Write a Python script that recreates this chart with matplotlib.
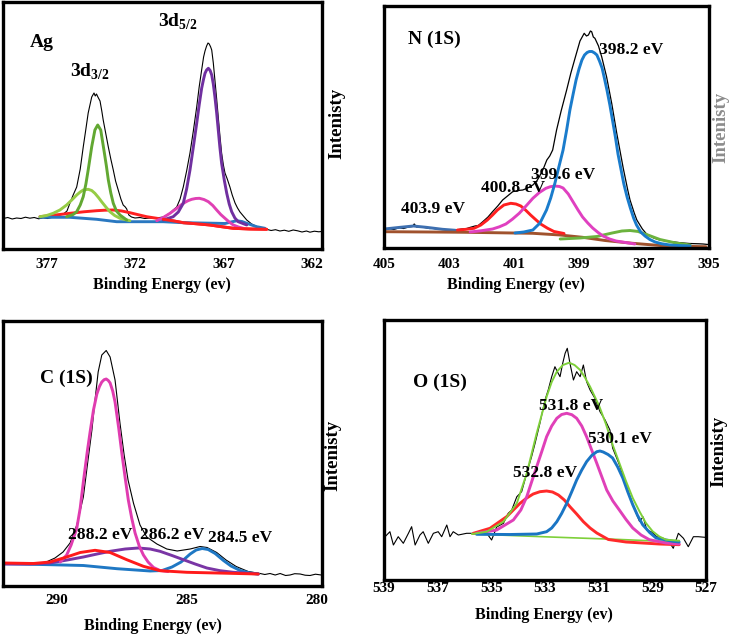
import matplotlib
matplotlib.use("Agg")
import matplotlib.pyplot as plt

plt.rcParams['font.family'] = ['Liberation Serif', 'DejaVu Serif']
plt.rcParams['font.weight'] = 'bold'
plt.rcParams['mathtext.fontset'] = 'custom'
plt.rcParams['mathtext.rm'] = 'Liberation Serif'
plt.rcParams['mathtext.bf'] = 'Liberation Serif:bold'
plt.rcParams['lines.solid_joinstyle'] = 'round'
plt.rcParams['lines.solid_capstyle'] = 'round'

# ---------------- Ag 3d ----------------
ag_ticks = [377, 372, 367, 362]
ag_env_e = [379.45, 379.2, 378.95, 378.7, 378.45, 378.2, 377.95, 377.7, 377.45, 377.2, 376.95, 376.7,
            376.45, 376.25, 376.05, 375.85, 375.68, 375.5, 375.3, 375.1, 374.93, 374.78, 374.65, 374.45,
            374.32, 374.25, 374.18, 374.1, 373.98, 373.88, 373.8, 373.65, 373.51, 373.37, 373.23, 373.1,
            372.95, 372.8, 372.67, 372.55, 372.47, 372.35, 372.2, 372.0, 371.72, 371.45, 371.15, 370.85,
            370.6, 370.4, 370.2, 370.02, 369.84, 369.64, 369.45, 369.27, 369.08, 368.89, 368.7, 368.51,
            368.37, 368.23, 368.12, 368.04, 367.95, 367.87, 367.8, 367.72, 367.66, 367.57, 367.48, 367.38,
            367.29, 367.2, 367.1, 367.0, 366.91, 366.78, 366.63, 366.5, 366.34, 366.2, 366.06, 365.87,
            365.68, 365.4, 365.12, 364.85, 364.55, 364.3, 364.05, 363.8, 363.55, 363.3, 363.05, 362.8,
            362.55, 362.3, 362.1, 361.85, 361.6, 361.45]
ag_env_i = [30.5, 31.5, 30, 31, 30.5, 31.8, 30.8, 31.5, 30.2, 31.2, 30.5, 31.6,
            32.5, 34, 35, 38, 46, 54, 62, 80, 102, 120, 136, 152,
            156, 153, 155, 152, 148, 138, 129, 115, 102, 90, 79, 68,
            59, 50, 44, 42, 40, 34, 32, 31, 31.5, 30.5, 31, 30.5,
            31.5, 32, 34, 36, 39, 42, 50, 62, 78, 96, 118, 142,
            162, 179, 192, 198, 203, 206, 205, 202, 199, 186, 169, 150,
            132, 114, 96, 84, 76, 70, 62, 54, 46, 41, 37, 33,
            29, 25, 22.5, 21, 19.7, 18.5, 19.3, 18, 18.8, 17.7, 19, 18.2,
            17, 18, 16.8, 17.8, 17.2, 17.5]
ag_g1_e = [375.87, 375.5, 375.3, 375.1, 374.93, 374.78, 374.65, 374.45, 374.27, 374.11, 373.94, 373.76,
           373.62, 373.51, 373.37, 373.23, 373.05, 372.85, 372.47]
ag_g1_i = [32.3, 34.5, 37.3, 44, 52.3, 65, 79, 102.3, 119, 124, 119, 99,
           83, 69, 56, 45.7, 38, 34, 29]
ag_g2_e = [377.38, 377.0, 376.63, 376.25, 375.87, 375.55, 375.3, 375.1, 374.93, 374.65, 374.45, 374.27,
           374.07, 373.89, 373.65, 373.42, 373.15, 372.85, 372.29]
ag_g2_i = [32.3, 33.5, 35.7, 39, 44, 49.5, 54, 57, 59, 59.7, 58.5, 55.7,
           51.5, 47.3, 42, 37.3, 33.5, 30.7, 28.3]
ag_red_e = [377.38, 376.5, 375.68, 374.9, 374.17, 373.7, 373.23, 372.75, 372.29, 371.8, 371.34, 370.87,
            370.4, 369.8, 369.27, 368.5, 367.76, 367.1, 366.44, 365.5, 364.55]
ag_red_i = [32.3, 34, 35.7, 37.2, 38.3, 38.8, 39, 38, 36.3, 34.2, 32.3, 31,
            29.7, 28, 26.3, 25.2, 24, 22.3, 20.7, 20, 19.7]
ag_blue_e = [377.38, 375.68, 374.17, 373.04, 370.4, 369.27, 367.38, 366.91, 366.57, 366.25, 365.95, 365.68, 365.12, 364.65]
ag_blue_i = [31.7, 31.7, 29.7, 27.3, 27.3, 26.3, 25.7, 25.5, 27, 28.2, 27.5, 25.7, 22.3, 20.7]
ag_pur_e = [370.4, 369.84, 369.55, 369.27, 369.08, 368.89, 368.7, 368.51, 368.37, 368.23, 368.12, 368.04,
            367.95, 367.85, 367.75, 367.66, 367.57, 367.48, 367.38, 367.29, 367.2, 367.1, 366.95, 366.81,
            366.67, 366.53, 366.35, 366.16, 365.68]
ag_pur_i = [29, 32.3, 37, 45.7, 60, 79, 102, 125.7, 144, 160.7, 170, 175.7,
            179, 180.7, 178.5, 174, 165, 152.3, 136, 119, 102, 85.7, 69, 55.7,
            45, 37.3, 31, 27.3, 24]
ag_mag_e = [370.77, 370.4, 370.02, 369.65, 369.27, 369.0, 368.79, 368.57, 368.36, 368.1, 367.85, 367.6,
            367.38, 367.15, 366.91, 366.67, 366.44, 366.15, 365.87]
ag_mag_i = [28.3, 31.5, 35.7, 40.5, 45.7, 48.3, 49.7, 50.5, 50.7, 49.5, 47.3, 43.5,
            39, 34.5, 30.7, 27, 24, 22, 20.7]

# ---------------- N 1s ----------------
n_ticks = [405, 403, 401, 399, 397, 395]
n_env_e = [404.99, 404.85, 404.7, 404.53, 404.4, 404.25, 404.12, 404.07, 404.0, 403.89, 403.75, 403.6,
           403.5, 403.35, 403.2, 403.0, 402.78, 402.6, 402.45, 402.38, 402.2, 402.1, 401.96, 401.8,
           401.66, 401.5, 401.35, 401.2, 401.04, 400.88, 400.73, 400.58, 400.42, 400.3, 400.22, 400.1,
           399.99, 399.9, 399.81, 399.69, 399.55, 399.38, 399.25, 399.12, 398.97, 398.84, 398.77, 398.71,
           398.65, 398.61, 398.56, 398.51, 398.4, 398.3, 398.15, 397.99, 397.84, 397.72, 397.64, 397.5,
           397.43, 397.3, 397.22, 397.05, 396.92, 396.7, 396.51, 396.2, 395.89, 395.6, 395.3, 395.18, 395.03]
n_env_i = [18.7, 19.5, 18.5, 20.3, 19.5, 21, 21.5, 24, 21, 21, 20.5, 19.5,
           19.7, 18.8, 18.5, 18, 18, 19, 19.5, 20.3, 22, 22.5, 26.3, 31,
           36.3, 42, 48, 52, 56.3, 57.5, 58, 60, 63, 67, 71.3, 79,
           88, 92, 98, 118, 137, 158, 175, 190, 207, 214.7, 212, 213,
           217, 216.3, 211, 209.7, 202, 191, 171, 144, 115, 94, 80, 58,
           48, 35, 28, 19, 14, 10, 8, 6.5, 5.3, 4.5, 4.2, 4, 3.5]
n_blue_e = [400.97, 400.7, 400.42, 400.2, 400.0, 399.87, 399.74, 399.62, 399.49, 399.38, 399.28, 399.18,
            399.09, 399.0, 398.91, 398.83, 398.75, 398.68, 398.6, 398.52, 398.45, 398.37, 398.29, 398.22,
            398.14, 398.05, 397.97, 397.88, 397.8, 397.71, 397.62, 397.52, 397.42, 397.32, 397.23, 397.1,
            396.97, 396.82, 396.66, 396.45, 396.2, 395.9, 395.58]
n_blue_i = [15, 16, 18, 25, 38, 50, 65, 81, 98, 118, 138, 154,
            168, 179, 188, 193, 195.5, 196.5, 196.5, 195, 193, 187, 180, 170,
            158, 143, 128, 111, 94, 79, 64, 51, 40, 30, 23, 16,
            12, 8.5, 6, 4.2, 3, 2.4, 2]
n_mag_e = [402.35, 402.0, 401.66, 401.45, 401.25, 401.05, 400.84, 400.63, 400.42, 400.22, 400.02, 399.88,
           399.74, 399.6, 399.49, 399.33, 399.18, 399.03, 398.89, 398.73, 398.58, 398.42, 398.26, 398.06,
           397.86, 397.28]
n_mag_i = [16, 17.3, 19, 21.2, 24, 28.8, 34.7, 42, 49.7, 55.5, 59.7, 61.3,
           62, 61.5, 60, 54, 46, 38, 31, 25, 20, 15.7, 12, 9,
           7, 4]
n_red_e = [402.74, 402.5, 402.23, 402.02, 401.82, 401.66, 401.51, 401.31, 401.1, 400.94, 400.79, 400.64,
           400.49, 400.33, 400.18, 399.97, 399.77, 399.46]
n_red_i = [18, 18.6, 19.7, 23, 28, 33, 38, 43, 44.7, 44, 42, 37.8,
           33, 28.3, 24, 19.8, 16.5, 14.5]
n_grn_e = [399.58, 398.97, 398.45, 397.98, 397.68, 397.43, 397.18, 396.88, 396.51, 396.02, 395.58]
n_grn_i = [9, 10, 11.5, 15, 17, 17.5, 16.5, 13, 8.5, 5, 3]
n_base_e = [404.99, 403.58, 402.48, 401.43, 400.42, 399.58, 398.89, 398.2, 397.35, 396.32, 395.09]
n_base_i = [16.3, 16, 15.7, 15.2, 14.7, 13, 10.7, 7.5, 4.7, 2, 1.3]
n_p4_e = [404.99, 404.5, 404.1, 403.7, 403.2, 402.8]
n_p4_i = [19, 20.7, 22, 20.7, 18.7, 17.7]

# ---------------- C 1s ----------------
c_ticks = [290, 285, 280]
c_env_e = [292.05, 291.7, 291.41, 291.15, 290.9, 290.45, 290.07, 289.76, 289.49, 289.23, 288.98, 288.8,
           288.65, 288.53, 288.41, 288.27, 288.1, 287.95, 287.76, 287.57, 287.41, 287.26, 287.05, 286.8,
           286.54, 286.15, 285.77, 285.37, 284.87, 284.49, 284.22, 283.85, 283.49, 283.1, 282.64, 282.18,
           282.0, 281.8, 281.6, 281.41, 281.2, 281.03, 280.85, 280.64, 280.45, 280.26, 280.05, 279.83]
c_env_i = [23, 22.5, 22.5, 22.2, 22, 23.5, 28, 34, 43, 61, 89, 126,
           156, 186, 214, 231, 235.5, 229, 206, 162.7, 131, 106, 82.7, 61,
           49, 42, 37, 35, 37, 39.5, 38.5, 33.5, 26, 19.5, 14.5, 12.5,
           11.5, 12.5, 11, 12.5, 10.5, 11, 12.3, 12, 10.8, 10.5, 11.8, 11]
c_mag_e = [289.87, 289.62, 289.45, 289.23, 289.1, 288.98, 288.83, 288.72, 288.59, 288.46, 288.36, 288.27,
           288.18, 288.1, 288.02, 287.95, 287.85, 287.76, 287.62, 287.5, 287.37, 287.25, 287.12, 286.99,
           286.83, 286.67, 286.49, 286.28, 286.03, 285.72]
c_mag_i = [24, 31, 41, 58, 78, 104, 134, 154, 176, 192, 199.5, 204,
           206.3, 207, 205.5, 203, 195, 184, 158, 133, 108, 86, 68, 53,
           40, 31, 24, 18.5, 15.5, 14.5]
c_red_e = [292.05, 290.9, 290.26, 289.68, 289.1, 288.53, 287.95, 287.31, 286.67, 286.03, 285.0, 283.85, 282.25]
c_red_i = [23, 22.5, 24, 28.5, 33.5, 35.7, 33.5, 26.3, 19.7, 15.3, 13.7, 13, 12]
c_pur_e = [292.05, 291.03, 290.26, 289.6, 288.98, 288.45, 287.95, 287.37, 286.86, 286.41, 286.03, 285.57,
           285.13, 284.68, 284.23, 283.72, 283.21, 282.25]
c_pur_i = [22, 22, 23, 26, 29, 32, 34.7, 37, 38, 37, 34.7, 30.5,
           26.3, 22, 18, 15.3, 13.7, 12]
c_blue_e = [292.05, 290.26, 288.98, 287.69, 286.41, 285.95, 285.57, 285.22, 284.87, 284.64, 284.41, 284.18,
            283.91, 283.59, 283.3, 282.95, 282.56, 282.25]
c_blue_i = [22.3, 21.3, 20.5, 17.3, 15, 15.5, 19, 24, 32, 36, 37.5, 36.5,
            32.5, 25.5, 20, 15.5, 13, 12]

# ---------------- O 1s ----------------
o_ticks = [539, 537, 535, 533, 531, 529, 527]
o_env_e = [538.96, 538.78, 538.65, 538.47, 538.28, 538.09, 537.97, 537.84, 537.66, 537.54, 537.35, 537.16,
           536.98, 536.85, 536.66, 536.54, 536.42, 536.23, 535.92, 535.67, 535.42, 535.17, 534.99, 534.8,
           534.55, 534.37, 534.24, 534.05, 533.87, 533.68, 533.5, 533.37, 533.19, 533.0, 532.88, 532.75,
           532.63, 532.54, 532.44, 532.34, 532.25, 532.17, 532.07, 531.94, 531.82, 531.69, 531.57, 531.45,
           531.32, 531.14, 530.95, 530.76, 530.58, 530.48, 530.23, 529.98, 529.73, 529.48, 529.34, 529.21,
           529.02, 528.84, 528.59, 528.34, 528.22, 528.03, 527.84, 527.66, 527.47, 527.29, 527.04]
o_env_i = [43.3, 48.3, 35, 43.3, 36.7, 46.7, 53.3, 35, 45, 48.3, 36.7, 46.7,
           48.3, 43.3, 55, 43.3, 48.3, 45, 46.7, 46.7, 48, 46.7, 40, 53,
           56.7, 66.7, 70, 83.3, 88.3, 106.7, 123.3, 136.7, 156.7, 180, 190, 203.3,
           213.3, 208.3, 203.3, 216.7, 226.7, 231.7, 216.7, 200, 208.3, 203.3, 215, 198.3,
           190, 181.7, 168.3, 160, 150, 132, 115.3, 95.3, 75.3, 58.7, 63, 50,
           48, 43.3, 41.7, 36.7, 31.7, 46.7, 41.7, 33.3, 43.3, 43.3, 42.7]
o_fit_e = [535.72, 535.17, 534.55, 534.05, 533.68, 533.31, 532.94, 532.75, 532.56, 532.33, 532.1, 531.9,
           531.69, 531.5, 531.32, 530.98, 530.73, 530.48, 530.23, 529.98, 529.73, 529.48, 529.24, 528.99,
           528.74, 528.49, 528.0]
o_fit_i = [46, 48.3, 58.3, 76.7, 106.7, 146.7, 183.3, 198, 208.3, 215, 217.3, 215,
           210, 202, 193.3, 174, 156, 135.3, 117, 98.7, 82, 68.7, 57, 48.7,
           43.5, 40.3, 39.3]
o_base_e = [535.72, 532.81, 530.2, 528.0]
o_base_i = [46, 43, 40.5, 38]
o_red_e = [535.67, 535.05, 534.43, 533.93, 533.68, 533.44, 533.19, 532.94, 532.72, 532.5, 532.28, 532.07,
           531.82, 531.57, 531.32, 531.07, 530.64, 529.98, 528.74, 528.0]
o_red_i = [46.7, 51.7, 63.3, 76.7, 82, 86, 88.3, 89, 88, 85, 80, 73.3,
           66, 58.3, 52, 47, 40.5, 38, 36, 35.3]
o_mag_e = [535.55, 534.8, 534.18, 533.9, 533.68, 533.5, 533.31, 533.12, 532.94, 532.75, 532.56, 532.38,
           532.19, 532.0, 531.82, 531.63, 531.45, 531.26, 531.07, 530.88, 530.7, 530.47, 530.23, 529.98,
           529.73, 529.42, 529.11, 528.49, 528.0]
o_mag_i = [46.7, 50, 60, 70, 83.3, 98, 113.3, 128.5, 143.3, 154, 161.7, 165.5,
           166.7, 165.3, 161.7, 154, 143.3, 130, 116.7, 103, 90, 79, 70, 60.5,
           52, 45, 40.3, 37, 36]
o_blue_e = [535.55, 534.3, 533.31, 532.94, 532.75, 532.56, 532.38, 532.19, 532.0, 531.82, 531.63, 531.45,
            531.26, 531.07, 530.95, 530.83, 530.65, 530.48, 530.29, 530.1, 529.92, 529.73, 529.55, 529.36,
            529.1, 528.86, 528.24, 528.0]
o_blue_i = [45.7, 45.5, 46, 48.3, 52, 58.3, 66.5, 76.7, 88.5, 100, 110, 118.3,
            124.5, 128.3, 129, 128, 125.5, 122, 113, 102, 88.5, 75.3, 64.5, 55.3,
            47.5, 42, 38.7, 38]

W, H = 732, 636
fig = plt.figure(figsize=(W / 100, H / 100), dpi=100)


def make_ax(l, r, t, b):
    return fig.add_axes([l / W, 1 - b / H, (r - l) / W, (b - t) / H])


def style(ax, xlim, ylim, ticks, pad, xl_pos, yl_pos, ylab_color='black'):
    ax.set_xlim(*xlim)
    ax.set_ylim(*ylim)
    ax.set_xticks(ticks)
    ax.set_xticklabels([str(t) for t in ticks])
    ax.set_yticks([])
    ax.tick_params(axis='x', length=0, pad=pad, labelsize=11)
    for lab in ax.get_xticklabels():
        lab.set_fontweight('bold')
    for s in ax.spines.values():
        s.set_linewidth(2.4)
        s.set_color('black')
    ax.set_xlabel('Binding Energy (ev)', fontsize=11.5, fontweight='bold', va='center')
    ax.xaxis.set_label_coords(*xl_pos)
    ax.yaxis.set_label_position('right')
    ax.set_ylabel('Intenisty', fontsize=13.5, fontweight='bold', color=ylab_color,
                  va='center', ha='center', rotation=90)
    ax.yaxis.set_label_coords(*yl_pos)


LW = 2.1
# ---- Ag
ax1 = make_ax(3, 322, 2, 249)
ax1.plot(ag_env_e, ag_env_i, color='black', lw=0.8)
ax1.plot(ag_red_e, ag_red_i, color='#ff2020', lw=LW)
ax1.plot(ag_blue_e, ag_blue_i, color='#2a78c0', lw=LW)
ax1.plot(ag_g2_e, ag_g2_i, color='#96cc45', lw=LW)
ax1.plot(ag_g1_e, ag_g1_i, color='#62a832', lw=LW)
ax1.plot(ag_mag_e, ag_mag_i, color='#e040b4', lw=LW)
ax1.plot(ag_pur_e, ag_pur_i, color='#7030a0', lw=LW)
ax1.plot(ag_red_e[12:], ag_red_i[12:], color='#ff2020', lw=LW)
style(ax1, (379.47, 361.42), (0, 247), ag_ticks, 6.5, (0.497, -0.146), (1.047, 0.51))
ax1.text(0.085, 0.838, 'Ag', transform=ax1.transAxes, fontsize=14, fontweight='bold', va='center', ha='left')
ax1.text(0.21, 0.698, r'3d$_{\mathbf{3/2}}$', transform=ax1.transAxes, fontsize=14, fontweight='bold', va='baseline', ha='left')
ax1.text(0.486, 0.90, r'3d$_{\mathbf{5/2}}$', transform=ax1.transAxes, fontsize=14, fontweight='bold', va='baseline', ha='left')

# ---- N
ax2 = make_ax(384, 709, 6, 248)
ax2.plot(n_env_e, n_env_i, color='black', lw=0.9)
ax2.plot(n_p4_e, n_p4_i, color='#3d6fb0', lw=LW)
ax2.plot(n_base_e, n_base_i, color='#a0522d', lw=LW)
ax2.plot(n_grn_e, n_grn_i, color='#6cb33e', lw=LW)
ax2.plot(n_red_e, n_red_i, color='#ff1f1f', lw=LW)
ax2.plot(n_mag_e, n_mag_i, color='#e040c0', lw=LW)
ax2.plot(n_blue_e, n_blue_i, color='#1a7ccc', lw=LW)
style(ax2, (405, 395), (0, 242), n_ticks, 7.5, (0.406, -0.153), (1.037, 0.498), ylab_color='#8c8c8c')
ax2.text(0.073, 0.864, 'N (1S)', transform=ax2.transAxes, fontsize=14, fontweight='bold', va='center', ha='left')
for s, fx, fy in [('398.2 eV', 0.662, 0.818), ('399.6 eV', 0.452, 0.302),
                  ('400.8 eV', 0.298, 0.246), ('403.9 eV', 0.052, 0.163)]:
    ax2.text(fx, fy, s, transform=ax2.transAxes, fontsize=12.5, fontweight='bold', va='center', ha='left')

# ---- C
ax3 = make_ax(3, 322, 321, 586)
ax3.plot(c_env_e, c_env_i, color='black', lw=0.8)
ax3.plot(c_blue_e, c_blue_i, color='#1f78c4', lw=LW)
ax3.plot(c_pur_e, c_pur_i, color='#7a35a5', lw=LW)
ax3.plot(c_mag_e, c_mag_i, color='#e03cb0', lw=LW)
ax3.plot(c_red_e, c_red_i, color='#ff1a1a', lw=LW)
style(ax3, (292.07, 279.80), (0, 265), c_ticks, 6.0, (0.471, -0.151), (1.034, 0.494))
ax3.text(0.116, 0.785, 'C (1S)', transform=ax3.transAxes, fontsize=14, fontweight='bold', va='center', ha='left')
for s, fx, fy in [('288.2 eV', 0.204, 0.194), ('286.2 eV', 0.429, 0.194), ('284.5 eV', 0.643, 0.183)]:
    ax3.text(fx, fy, s, transform=ax3.transAxes, fontsize=12.5, fontweight='bold', va='center', ha='left')

# ---- O
ax4 = make_ax(384, 706, 320, 580)
ax4.plot(o_env_e, o_env_i, color='black', lw=0.8)
ax4.plot(o_base_e, o_base_i, color='#7ed03a', lw=1.2)
ax4.plot(o_red_e, o_red_i, color='#ff2a2a', lw=LW)
ax4.plot(o_mag_e, o_mag_i, color='#e040b8', lw=LW)
ax4.plot(o_blue_e, o_blue_i, color='#1a75c4', lw=LW)
ax4.plot(o_fit_e, o_fit_i, color='#7ed03a', lw=1.4)
style(ax4, (539, 527), (0, 260), o_ticks, 1.5, (0.498, -0.135), (1.04, 0.496))
ax4.text(0.089, 0.762, 'O (1S)', transform=ax4.transAxes, fontsize=14, fontweight='bold', va='center', ha='left')
for s, fx, fy in [('531.8 eV', 0.482, 0.668), ('530.1 eV', 0.633, 0.542), ('532.8 eV', 0.40, 0.41)]:
    ax4.text(fx, fy, s, transform=ax4.transAxes, fontsize=12.5, fontweight='bold', va='center', ha='left')

fig.savefig('out.png', dpi=100)
